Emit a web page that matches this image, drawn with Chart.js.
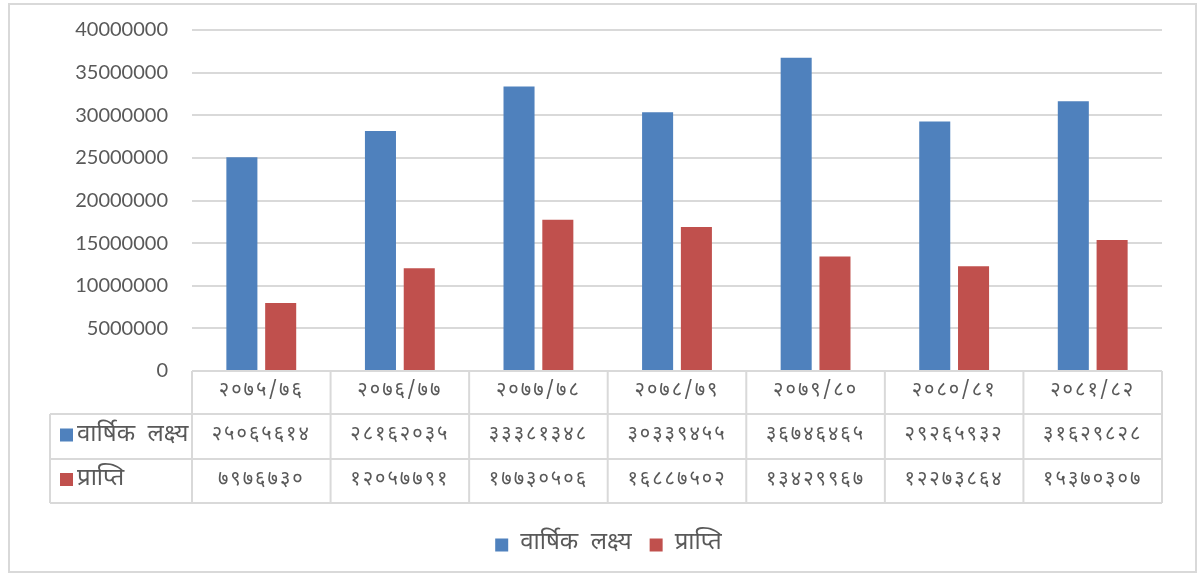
<!DOCTYPE html>
<html>
<head>
<meta charset="utf-8">
<script src="https://cdn.jsdelivr.net/npm/chart.js@4.4.1/dist/chart.umd.min.js"></script>
<style>
  html, body { margin: 0; padding: 0; background: #fff; }
  #wrap { position: relative; width: 1203px; height: 579px; }
  #frame { position: absolute; left: 8px; top: 3px; width: 1185px; height: 566px; border: 2px solid #d9d9d9; pointer-events: none; }
  canvas { position: absolute; left: 0; top: 0; }
</style>
</head>
<body>
<div id="wrap">
  <canvas id="budgetChart" width="1203" height="579"></canvas>
  <div id="frame"></div>
</div>
<script>
const years = ['२०७५/७६', '२०७६/७७', '२०७७/७८', '२०७८/७९', '२०७९/८०', '२०८०/८१', '२०८१/८२'];
const targetLabel = 'वार्षिक  लक्ष्य';
const achievedLabel = 'प्राप्ति';
const targetValues = [25065614, 28162035, 33381348, 30339455, 36746465, 29265932, 31629828];
const achievedValues = [7976730, 12057791, 17730506, 16887502, 13429967, 12273864, 15370307];
const yTicks = [0, 5000000, 10000000, 15000000, 20000000, 25000000, 30000000, 35000000, 40000000];

const BLUE = '#4f81bd';
const RED = '#c0504d';
const GRID = '#d9d9d9';
const TEXT = '#595959';
const DEVA_FONT = '"Noto Sans Devanagari", "Lohit Devanagari", "Noto Sans", sans-serif';

// western digits -> devanagari digits
function toNepaliDigits(n) {
    const d = '०१२३४५६७८९';
    return String(n).replace(/[0-9]/g, c => d[+c]);
}

// data table drawn under the x axis, one column per category
const dataTable = {
    id: 'dataTable',
    afterDraw(chart) {
        const ctx = chart.ctx;
        const xs = chart.scales.x;
        const area = chart.chartArea;
        const n = years.length;
        const colW = (area.right - area.left) / n;
        const top = area.bottom;
        const rows = [top, top + 43, top + 88, top + 132];
        const labelLeft = 50;

        ctx.save();
        ctx.strokeStyle = GRID;
        ctx.lineWidth = 2;
        ctx.beginPath();
        ctx.moveTo(area.left, rows[0]); ctx.lineTo(area.right, rows[0]);
        for (let r = 1; r < rows.length; r++) {
            ctx.moveTo(labelLeft, rows[r]); ctx.lineTo(area.right, rows[r]);
        }
        for (let i = 0; i <= n; i++) {
            const x = area.left + i * colW;
            ctx.moveTo(x, rows[0]); ctx.lineTo(x, rows[3]);
        }
        ctx.moveTo(labelLeft, rows[1]); ctx.lineTo(labelLeft, rows[3]);
        ctx.stroke();

        ctx.fillStyle = TEXT;
        ctx.font = '20px ' + DEVA_FONT;
        ctx.textAlign = 'center';
        ctx.textBaseline = 'middle';
        ctx.letterSpacing = '2px';
        years.forEach((y, i) => {
            const cx = xs.getPixelForValue(i);
            ctx.fillText(y, cx, (rows[0] + rows[1]) / 2);
            ctx.fillText(toNepaliDigits(targetValues[i]), cx, (rows[1] + rows[2]) / 2);
            ctx.fillText(toNepaliDigits(achievedValues[i]), cx, (rows[2] + rows[3]) / 2);
        });

        // row headers with colour keys
        ctx.letterSpacing = '0px';
        ctx.textAlign = 'left';
        ctx.font = '24px ' + DEVA_FONT;
        const keys = [[targetLabel, BLUE], [achievedLabel, RED]];
        keys.forEach((k, r) => {
            const cy = (rows[r + 1] + rows[r + 2]) / 2;
            ctx.fillStyle = k[1];
            ctx.fillRect(60, cy - 8, 13, 13);
            ctx.fillStyle = TEXT;
            ctx.fillText(k[0], 77, cy);
        });
        ctx.restore();
    }
};

new Chart(document.getElementById('budgetChart'), {
    type: 'bar',
    data: {
        labels: years,
        datasets: [
            { label: targetLabel, data: targetValues, backgroundColor: BLUE, categoryPercentage: 0.56, barPercentage: 0.8 },
            { label: achievedLabel, data: achievedValues, backgroundColor: RED, categoryPercentage: 0.56, barPercentage: 0.8 }
        ]
    },
    options: {
        responsive: false,
        animation: false,
        layout: { padding: { top: 30, right: 0, bottom: 12, left: 14 } },
        plugins: {
            tooltip: { enabled: false },
            legend: {
                position: 'bottom',
                labels: { color: TEXT, font: { family: DEVA_FONT, size: 24 }, boxWidth: 13, boxHeight: 13, padding: 18 }
            }
        },
        scales: {
            x: {
                grid: { display: false },
                border: { display: false },
                ticks: { display: false },
                afterFit(scale) { scale.height = 144; }
            },
            y: {
                min: 0,
                max: 40000000,
                afterBuildTicks(scale) { scale.ticks = yTicks.map(v => ({ value: v })); },
                afterFit(scale) { scale.width = 178; },
                grid: { color: GRID, lineWidth: 2, drawTicks: true, tickLength: 24, tickColor: 'rgba(0,0,0,0)' },
                border: { display: false },
                ticks: {
                    padding: 0,
                    color: TEXT,
                    font: { family: 'Lato', size: 20 },
                    callback: v => String(v)
                }
            },
            // empty right-hand gutter so the legend stays centred under the table
            gutter: {
                type: 'linear',
                position: 'right',
                grid: { display: false },
                border: { display: false },
                ticks: { display: false },
                afterFit(scale) { scale.width = 41; }
            }
        }
    },
    plugins: [dataTable]
});
</script>
</body>
</html>
